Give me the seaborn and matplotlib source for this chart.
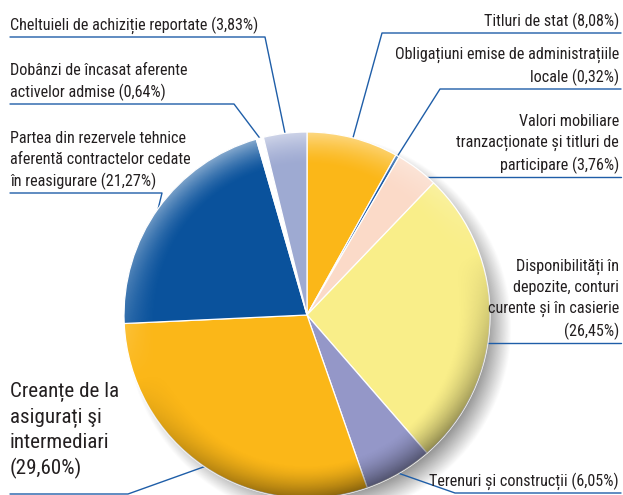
import numpy as np
import matplotlib
matplotlib.use("Agg")
import matplotlib.pyplot as plt
from matplotlib import font_manager
import seaborn as sns

# pie order, clockwise from 12 o'clock
names = [
    "Titluri de stat ",
    "Obligațiuni emise de administrațiile\nlocale ",
    "Valori mobiliare\ntranzacționate și titluri de\nparticipare ",
    "Disponibilități în\ndepozite, conturi\ncurente și în casierie\n",
    "Terenuri și construcții ",
    "Creanțe de la\nasigurați şi\nintermediari\n",
    "Partea din rezervele tehnice\naferentă contractelor cedate\nîn reasigurare ",
    "Dobânzi de încasat aferente\nactivelor admise ",
    "Cheltuieli de achiziție reportate ",
]
shares = [8.08, 0.32, 3.76, 26.45, 6.05, 29.60, 21.27, 0.64, 3.83]

colors = ["#fbb718", "#1b5aa5", "#fbdac8", "#f9ee89", "#9497c8",
          "#fbb718", "#0a529c", "#ffffff", "#9eaad2"]

# label layout in pixel units: side, text bottom y, underline y, underline outer end, leader mode, big text
layout = [
    ("right", 30, 33, 382, "mid", False),
    ("right", 86, 89, 440, "mid", False),
    ("right", 174, 177, None, "flat", False),
    ("right", 340, 343, None, "flat", False),
    ("right", 490, 493, 455, "mid", False),
    ("left", 479, 494, 128, "mid", True),
    ("left", 190, 193, 162, "mid", False),
    ("left", 101, 104, 234, "mid", False),
    ("left", 34, 37, 265, "mid", False),
]

W, H = 623, 495
cx, cy, r = 307, 315, 183
line_col = "#1f5ea8"
text_col = "#231f20"

sns.set_theme(style="white")

# pick a narrow face if one is installed
fonts = font_manager.fontManager.ttflist
avail = {f.name for f in fonts}
family = "DejaVu Sans"
for cand in ["Liberation Sans Narrow", "Roboto Condensed", "Open Sans Condensed",
             "Noto Sans Condensed", "DejaVu Sans Condensed"]:
    if cand in avail:
        family = cand
        break
plt.rcParams["font.family"] = [family, "DejaVu Sans"]

fig = plt.figure(figsize=(W / 100, H / 100), dpi=100)
ax = fig.add_axes([0, 0, 1, 1])
ax.set_xlim(0, W)
ax.set_ylim(H, 0)

# size the text so the one-line label spans about what it does in the picture
probe = ax.text(0, 0, names[8] + "(3,83%)", fontsize=10)
pw = probe.get_window_extent(fig.canvas.get_renderer()).width
probe.remove()
fs_small = min(12.0, 10 * 247 / pw)
fs_big = fs_small * 1.3

# soft drop shadow
pad = 45
x0, x1, y0, y1 = cx - r - pad, cx + r + pad, cy - r - pad, cy + r + pad
gx, gy = np.meshgrid(np.linspace(x0, x1, 400), np.linspace(y0, y1, 400))
d = np.hypot(gx - (cx + 12), gy - (cy + 12))
shadow = np.zeros(gx.shape + (4,))
shadow[..., :3] = 0.3
shadow[..., 3] = 0.6 * np.clip((r + 10 - d) / 26, 0, 1)
ax.imshow(shadow, extent=(x0, x1, y0, y1), origin="lower", zorder=0,
          interpolation="bilinear")

wedges, _ = ax.pie(shares, colors=sns.color_palette(colors), startangle=-90,
                   counterclock=True, center=(cx, cy), radius=r,
                   wedgeprops=dict(edgecolor="white", linewidth=0.9, zorder=2))

# rim shading: light from the top, dark at the lower right
gx, gy = np.meshgrid(np.linspace(cx - r, cx + r, 400), np.linspace(cy - r, cy + r, 400))
nx, ny = (gx - cx) / r, (gy - cy) / r
rho = np.hypot(nx, ny) + 1e-9
rim = np.clip((rho - 0.82) / 0.18, 0, 1) ** 1.5
s = (nx * -0.35 + ny * -0.94) / rho
shade = np.zeros(gx.shape + (4,))
light = s > 0
shade[light, :3] = 1.0
shade[..., 3] = np.where(light, 0.5 * rim * s, 0.45 * rim * -s)
img = ax.imshow(shade, extent=(cx - r, cx + r, cy - r, cy + r), origin="lower",
                zorder=3, interpolation="bilinear")
img.set_clip_path(plt.Circle((cx, cy), r, transform=ax.transData))

# labels with underline + leader
cum = np.cumsum([0] + shares[:-1])
for i, (name, val) in enumerate(zip(names, shares)):
    side, ty, uy, uend, mode, big = layout[i]
    fs = fs_big if big else fs_small
    ls = 1.36 if big else 1.45
    label = name + "(" + f"{val:.2f}".replace(".", ",") + "%)"
    if mode == "flat":
        ax_x = cx + np.sqrt(r ** 2 - (uy - cy) ** 2)
        ax_y = uy
        uend = ax_x
    else:
        theta = np.deg2rad(-90 + (cum[i] + val / 2) * 3.6)
        ax_x, ax_y = cx + r * np.cos(theta), cy + r * np.sin(theta)
    if side == "left":
        ax.text(10, ty, label, ha="left", va="bottom", fontsize=fs,
                color=text_col, linespacing=ls)
        ax.plot([10, uend, ax_x], [uy, uy, ax_y], color=line_col, lw=1.0, zorder=1)
    else:
        ax.text(619, ty, label, ha="right", va="bottom", fontsize=fs,
                color=text_col, linespacing=ls, multialignment="right")
        ax.plot([621, uend, ax_x], [uy, uy, ax_y], color=line_col, lw=1.0, zorder=1)

ax.set_xlim(0, W)
ax.set_ylim(H, 0)
ax.set_aspect("auto")
ax.axis("off")
fig.savefig("out.png", dpi=100)
